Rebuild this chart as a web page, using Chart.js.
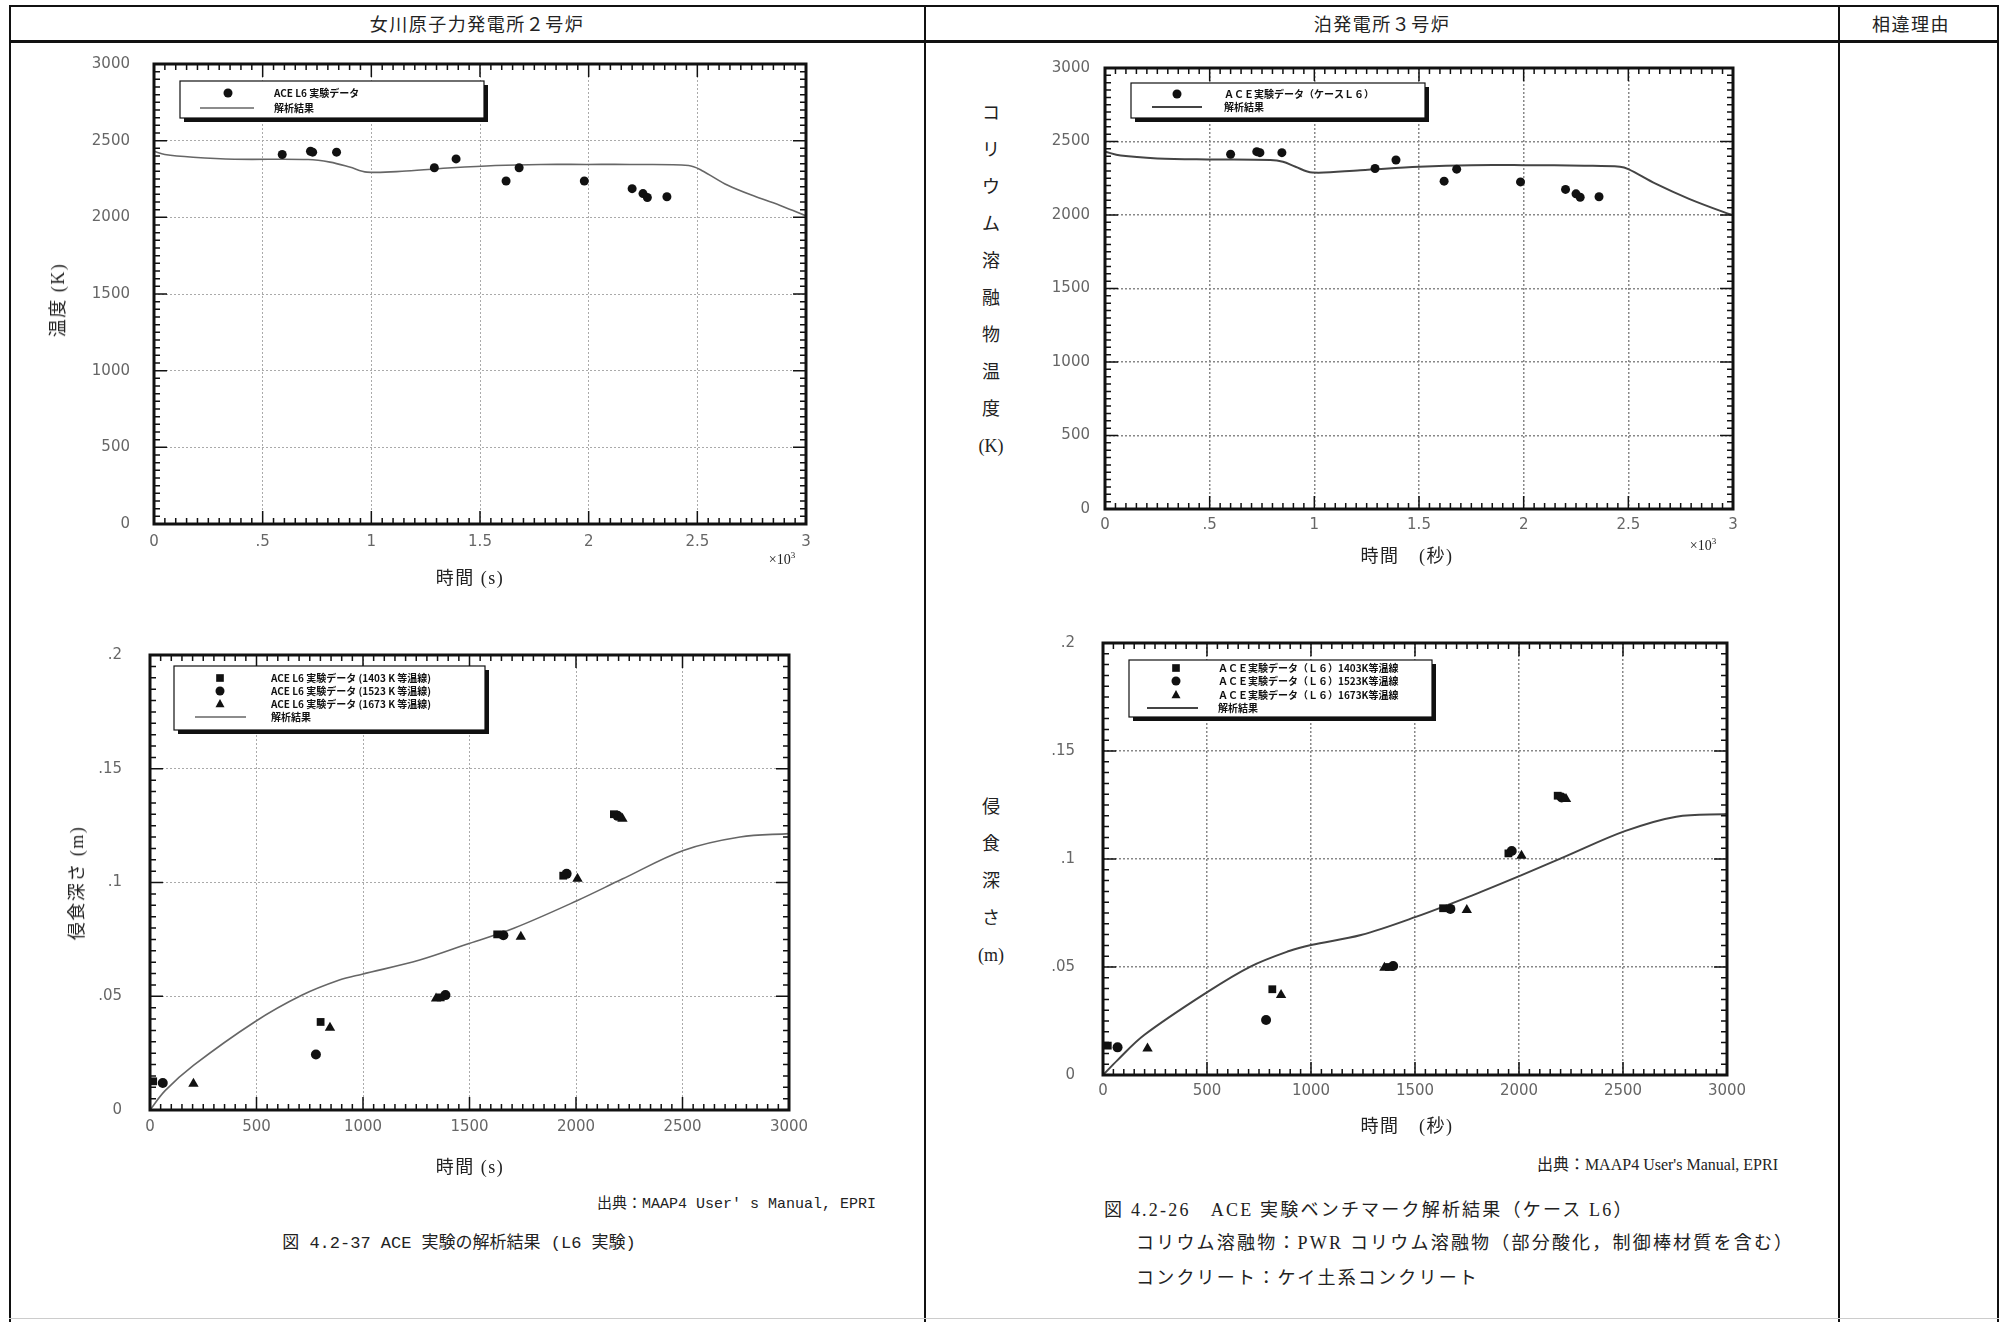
<!DOCTYPE html>
<html lang="ja">
<head>
<meta charset="utf-8">
<title>ACE L6</title>
<script src="https://cdn.jsdelivr.net/npm/chart.js@4.4.1/dist/chart.umd.min.js"></script>
<style>
  html, body { margin: 0; padding: 0; background: #fff; }
  body { position: relative; width: 2006px; height: 1322px; overflow: hidden; font-family: "Noto Sans CJK JP", sans-serif; color: #222; }
  .rule { position: absolute; background: #111; }
  .txt { position: absolute; white-space: nowrap; line-height: 1; }
  .c { transform: translate(-50%, -50%); }
  .r { transform: translate(-100%, -50%); }
  .l { transform: translate(0, -50%); }
  .vert { transform: translate(-50%, -50%) rotate(-90deg); }
  .jp { font-size: 18px; letter-spacing: 1.5px; }
  .cap { font-size: 18px; letter-spacing: 2.2px; }
  .mono { font-family: "Liberation Mono", "Noto Sans CJK JP", monospace; }
  .serif { font-family: "Liberation Serif", "Noto Sans CJK JP", serif; }
  .stack { position: absolute; transform: translateX(-50%); font-family: "Liberation Serif", "Noto Sans CJK JP", serif; font-size: 18px; text-align: center; }
  .stack div { height: 37px; line-height: 37px; }
  canvas { position: absolute; }
</style>
</head>
<body>
<!-- table rules -->
<div class="rule" style="left:9px;top:5px;width:1990px;height:2px"></div>
<div class="rule" style="left:9px;top:40px;width:1990px;height:3px"></div>
<div class="rule" style="left:9px;top:5px;width:2px;height:1317px"></div>
<div class="rule" style="left:924px;top:5px;width:2px;height:1317px"></div>
<div class="rule" style="left:1838px;top:5px;width:2px;height:1317px"></div>
<div class="rule" style="left:1997px;top:5px;width:2px;height:1317px"></div>
<div class="rule" style="left:9px;top:1318px;width:1990px;height:1px;background:#ccc"></div>

<div class="txt c jp" style="left:477px;top:23px">女川原子力発電所２号炉</div>
<div class="txt c jp" style="left:1382px;top:23px">泊発電所３号炉</div>
<div class="txt c jp" style="left:1911px;top:23px">相違理由</div>

<canvas id="tempL"></canvas>
<canvas id="tempR"></canvas>
<canvas id="depthL"></canvas>
<canvas id="depthR"></canvas>

<!-- left column texts -->
<div class="txt vert jp serif" style="left:58px;top:300px">温度 (K)</div>
<div class="txt c jp serif" style="left:470px;top:578px">時間 (s)</div>
<div class="txt c serif" style="left:782px;top:559px;font-size:14px">×10<sup style="font-size:9px">3</sup></div>
<div class="txt vert jp serif" style="left:77px;top:883px">侵食深さ (m)</div>
<div class="txt c jp serif" style="left:470px;top:1167px">時間 (s)</div>
<div class="txt r mono" style="left:876px;top:1204px;font-size:15px">出典：MAAP4 User' s Manual, EPRI</div>
<div class="txt c mono" style="left:459px;top:1243px;font-size:17px">図 4.2-37 ACE 実験の解析結果 (L6 実験)</div>

<!-- right column texts -->
<div class="stack" style="left:991px;top:95px">
  <div>コ</div><div>リ</div><div>ウ</div><div>ム</div><div>溶</div><div>融</div><div>物</div><div>温</div><div>度</div><div>(K)</div>
</div>
<div class="txt c jp serif" style="left:1407px;top:556px">時間　(秒)</div>
<div class="txt c serif" style="left:1703px;top:545px;font-size:14px">×10<sup style="font-size:9px">3</sup></div>
<div class="stack" style="left:991px;top:789px">
  <div>侵</div><div>食</div><div>深</div><div>さ</div><div>(m)</div>
</div>
<div class="txt c jp serif" style="left:1407px;top:1126px">時間　(秒)</div>
<div class="txt r serif" style="left:1778px;top:1165px;font-size:16px">出典：MAAP4 User's Manual, EPRI</div>
<div class="txt l cap serif" style="left:1104px;top:1210px">図 4.2-26　ACE 実験ベンチマーク解析結果（ケース L6）</div>
<div class="txt l cap serif" style="left:1136px;top:1243px">コリウム溶融物：PWR コリウム溶融物（部分酸化，制御棒材質を含む）</div>
<div class="txt l cap serif" style="left:1136px;top:1278px">コンクリート：ケイ土系コンクリート</div>

<script>
// tick labels
const tempTickX = ['0', '.5', '1', '1.5', '2', '2.5', '3'];
const tempTickY = ['0', '500', '1000', '1500', '2000', '2500', '3000'];
const depthTickX = ['0', '500', '1000', '1500', '2000', '2500', '3000'];
const depthTickY = ['0', '.05', '.1', '.15', '.2'];

// temperature, Onagawa (time in 10^3 s, K)
const tempExpTimeL = [0.59, 0.72, 0.73, 0.84, 1.29, 1.39, 1.62, 1.68, 1.98, 2.20, 2.25, 2.27, 2.36];
const tempExpL = [2410, 2431, 2425, 2425, 2323, 2381, 2237, 2323, 2237, 2187, 2155, 2129, 2134];
const tempCalcTimeL = [0, 0.05, 0.18, 0.37, 0.71, 0.81, 0.90, 0.98, 1.16, 1.37, 1.57, 1.78, 1.99, 2.19, 2.46, 2.52, 2.64, 2.77, 2.89, 3.0];
const tempCalcL = [2431, 2410, 2392, 2379, 2377, 2360, 2328, 2295, 2302, 2323, 2338, 2345, 2345, 2345, 2338, 2306, 2209, 2134, 2073, 2010];

// temperature, Tomari
const tempExpTimeR = [0.60, 0.725, 0.74, 0.845, 1.29, 1.39, 1.62, 1.68, 1.985, 2.20, 2.25, 2.27, 2.36];
const tempExpR = [2413, 2431, 2424, 2424, 2316, 2374, 2230, 2312, 2225, 2174, 2144, 2121, 2124];
const tempCalcTimeR = [0, 0.075, 0.25, 0.5, 0.79, 0.85, 0.91, 0.99, 1.22, 1.5, 1.75, 2.0, 2.29, 2.46, 2.5, 2.63, 2.79, 2.98, 3.0];
const tempCalcR = [2431, 2404, 2385, 2378, 2374, 2362, 2328, 2289, 2305, 2328, 2339, 2339, 2335, 2328, 2312, 2213, 2110, 2007, 2000];

// ablation depth, Onagawa (s, m)
const d1403TimeL = [15, 801, 1365, 1630, 1940, 2178];
const d1403L = [0.0126, 0.0387, 0.0495, 0.0772, 0.1030, 0.1300];
const d1523TimeL = [60, 779, 1387, 1659, 1956, 2195];
const d1523L = [0.0119, 0.0244, 0.0505, 0.0768, 0.1038, 0.1293];
const d1673TimeL = [204, 845, 1343, 1741, 2007, 2218];
const d1673L = [0.0115, 0.0362, 0.0490, 0.0762, 0.1016, 0.1280];
const depthCalcTimeL = [0, 71, 204, 491, 712, 889, 996, 1266, 1498, 1708, 2007, 2217, 2504, 2770, 3000];
const depthCalcL = [0, 0.0085, 0.0196, 0.0387, 0.0504, 0.0571, 0.0597, 0.0659, 0.0732, 0.0799, 0.0921, 0.1015, 0.1141, 0.1200, 0.1215];

// ablation depth, Tomari
const d1403TimeR = [23, 814, 1375, 1635, 1949, 2186];
const d1403R = [0.0136, 0.0397, 0.0500, 0.0772, 0.1026, 0.1293];
const d1523TimeR = [70, 784, 1395, 1670, 1965, 2205];
const d1523R = [0.0128, 0.0255, 0.0505, 0.0769, 0.1037, 0.1285];
const d1673TimeR = [214, 856, 1353, 1749, 2012, 2226];
const d1673R = [0.0123, 0.0370, 0.0497, 0.0764, 0.1015, 0.1278];
const depthCalcTimeR = [0, 70, 198, 505, 709, 895, 1000, 1240, 1507, 1779, 2007, 2221, 2512, 2756, 3000];
const depthCalcR = [0, 0.0069, 0.0185, 0.0386, 0.0502, 0.0574, 0.0602, 0.0648, 0.0733, 0.0833, 0.0923, 0.1011, 0.1130, 0.1196, 0.1208];

const pts = (xs, ys) => xs.map((x, i) => ({ x, y: ys[i] }));

function drawMarker(ctx, style, x, y, r) {
  ctx.beginPath();
  if (style === 'rect') {
    ctx.rect(x - r * 0.85, y - r * 0.85, r * 1.7, r * 1.7);
  } else if (style === 'triangle') {
    ctx.moveTo(x, y - r * 1.1);
    ctx.lineTo(x + r, y + r * 0.7);
    ctx.lineTo(x - r, y + r * 0.7);
    ctx.closePath();
  } else {
    ctx.arc(x, y, r, 0, Math.PI * 2);
  }
  ctx.fill();
}

// dense inward ticks on all four sides + heavy frame
const frameTicks = {
  id: 'frameTicks',
  afterDatasetsDraw(chart, args, o) {
    const { ctx, chartArea: a, scales: { x, y } } = chart;
    ctx.save();
    ctx.strokeStyle = '#111';
    ctx.lineWidth = 1.5;
    ctx.beginPath();
    const nx = Math.round((x.max - x.min) / o.xStep);
    for (let i = 0; i <= nx; i++) {
      const px = x.getPixelForValue(x.min + i * o.xStep);
      const len = i % o.perMajor === 0 ? 13 : 6;
      ctx.moveTo(px, a.bottom); ctx.lineTo(px, a.bottom - len);
      ctx.moveTo(px, a.top); ctx.lineTo(px, a.top + len);
    }
    const ny = Math.round((y.max - y.min) / o.yStep);
    for (let i = 0; i <= ny; i++) {
      const py = y.getPixelForValue(y.min + i * o.yStep);
      const len = i % o.perMajor === 0 ? 13 : 6;
      ctx.moveTo(a.left, py); ctx.lineTo(a.left + len, py);
      ctx.moveTo(a.right, py); ctx.lineTo(a.right - len, py);
    }
    ctx.stroke();
    ctx.lineWidth = 3;
    ctx.strokeRect(a.left, a.top, a.right - a.left, a.bottom - a.top);
    ctx.restore();
  }
};

// boxed legend with drop shadow, inside the plot
const boxLegend = {
  id: 'boxLegend',
  afterDatasetsDraw(chart, args, o) {
    const { ctx, chartArea: a } = chart;
    const x0 = a.left + o.x, y0 = a.top + o.y;
    ctx.save();
    ctx.fillStyle = '#111';
    ctx.fillRect(x0 + 4, y0 + 4, o.w, o.h);
    ctx.fillStyle = '#fff';
    ctx.fillRect(x0, y0, o.w, o.h);
    ctx.strokeStyle = '#111';
    ctx.lineWidth = 1.2;
    ctx.strokeRect(x0, y0, o.w, o.h);
    ctx.font = 'bold 10px "Noto Sans CJK JP", sans-serif';
    ctx.textBaseline = 'middle';
    chart.data.datasets.forEach((ds, i) => {
      const cy = y0 + o.rows[i];
      if (ds.showLine) {
        ctx.strokeStyle = ds.borderColor;
        ctx.lineWidth = ds.borderWidth;
        ctx.beginPath();
        ctx.moveTo(x0 + o.line[0], cy);
        ctx.lineTo(x0 + o.line[1], cy);
        ctx.stroke();
      } else {
        ctx.fillStyle = '#111';
        drawMarker(ctx, ds.pointStyle, x0 + o.markerX, cy, 4.5);
      }
      ctx.fillStyle = '#111';
      ctx.fillText(ds.label, x0 + o.textX, cy);
    });
    ctx.restore();
  }
};

const PAD = { l: 90, t: 20, r: 40, b: 50 };

function buildChart(id, area, datasets, ax, opts) {
  const cv = document.getElementById(id);
  const w = area.right - area.left + PAD.l + PAD.r;
  const h = area.bottom - area.top + PAD.t + PAD.b;
  cv.width = w; cv.height = h;
  cv.style.width = w + 'px'; cv.style.height = h + 'px';
  const tickFont = { family: 'DejaVu Sans', size: 15 };
  const chart = new Chart(cv, {
    type: 'scatter',
    data: { datasets },
    options: {
      responsive: false,
      maintainAspectRatio: false,
      animation: false,
      layout: { padding: { top: PAD.t, right: PAD.r, left: 0, bottom: 0 } },
      plugins: {
        legend: { display: false },
        tooltip: { enabled: false },
        frameTicks: { xStep: ax.xStep, yStep: ax.yStep, perMajor: 10 },
        boxLegend: opts.legend,
      },
      scales: {
        x: {
          type: 'linear', min: ax.xMin, max: ax.xMax,
          afterFit: (s) => { s.height = PAD.b; },
          ticks: {
            stepSize: ax.xMajor, autoSkip: false, maxRotation: 0, padding: opts.xPad,
            color: '#666', font: tickFont,
            callback: (v, i) => ax.xLabels[i],
          },
          grid: { color: opts.gridColor, lineWidth: opts.gridWidth, drawTicks: false },
          border: { display: false, dash: [2, 2] },
        },
        y: {
          type: 'linear', min: ax.yMin, max: ax.yMax,
          afterFit: (s) => { s.width = PAD.l; },
          ticks: {
            stepSize: ax.yMajor, autoSkip: false, padding: opts.yPad,
            color: '#666', font: tickFont,
            callback: (v, i) => ax.yLabels[i],
          },
          grid: { color: opts.gridColor, lineWidth: opts.gridWidth, drawTicks: false },
          border: { display: false, dash: [2, 2] },
        },
      },
    },
    plugins: [frameTicks, boxLegend],
  });
  // place the canvas so that the plot area lands exactly on `area`
  const ca = chart.chartArea;
  const newW = Math.round(ca.left + (area.right - area.left) + (w - ca.right));
  const newH = Math.round(ca.top + (area.bottom - area.top) + (h - ca.bottom));
  cv.style.left = (area.left - ca.left) + 'px';
  cv.style.top = (area.top - ca.top) + 'px';
  chart.resize(newW, newH);
  return chart;
}

function pointSet(label, data, style, r) {
  return {
    label, data, pointStyle: style, pointRadius: r,
    pointBackgroundColor: '#111', pointBorderColor: '#111', pointBorderWidth: 0,
    showLine: false, order: 1,
  };
}

function lineSet(label, data, color, width) {
  return {
    label, data, showLine: true, pointRadius: 0,
    borderColor: color, borderWidth: width, tension: 0.35, order: 2,
  };
}

const tempAxes = { xMin: 0, xMax: 3, xMajor: 0.5, xStep: 0.05, yMin: 0, yMax: 3000, yMajor: 500, yStep: 50, xLabels: tempTickX, yLabels: tempTickY };
const depthAxes = { xMin: 0, xMax: 3000, xMajor: 500, xStep: 50, yMin: 0, yMax: 0.2, yMajor: 0.05, yStep: 0.005, xLabels: depthTickX, yLabels: depthTickY };

buildChart('tempL', { left: 154, top: 64, right: 806, bottom: 524 }, [
  pointSet('ACE L6 実験データ', pts(tempExpTimeL, tempExpL), 'circle', 4.5),
  lineSet('解析結果', pts(tempCalcTimeL, tempCalcL), '#666', 1.6),
], tempAxes, {
  xPad: 9, yPad: 24, gridColor: '#aaa', gridWidth: 1,
  legend: { x: 26, y: 17, w: 304, h: 37, rows: [12, 27], markerX: 48, textX: 94, line: [20, 74] },
});

buildChart('tempR', { left: 1105, top: 68, right: 1733, bottom: 509 }, [
  pointSet('ＡＣＥ実験データ（ケースＬ６）', pts(tempExpTimeR, tempExpR), 'circle', 4.5),
  lineSet('解析結果', pts(tempCalcTimeR, tempCalcR), '#444', 2),
], tempAxes, {
  xPad: 7, yPad: 15, gridColor: '#888', gridWidth: 1.5,
  legend: { x: 26, y: 15, w: 294, h: 35, rows: [11, 24], markerX: 46, textX: 93, line: [21, 71] },
});

buildChart('depthL', { left: 150, top: 655, right: 789, bottom: 1110 }, [
  pointSet('ACE L6 実験データ (1403 K 等温線)', pts(d1403TimeL, d1403L), 'rect', 5.5),
  pointSet('ACE L6 実験データ (1523 K 等温線)', pts(d1523TimeL, d1523L), 'circle', 5),
  pointSet('ACE L6 実験データ (1673 K 等温線)', pts(d1673TimeL, d1673L), 'triangle', 6),
  lineSet('解析結果', pts(depthCalcTimeL, depthCalcL), '#666', 1.6),
], depthAxes, {
  xPad: 8, yPad: 28, gridColor: '#aaa', gridWidth: 1,
  legend: { x: 24, y: 11, w: 311, h: 64, rows: [12, 25, 38, 51], markerX: 46, textX: 97, line: [21, 72] },
});

buildChart('depthR', { left: 1103, top: 643, right: 1727, bottom: 1075 }, [
  pointSet('ＡＣＥ実験データ（Ｌ６）1403K等温線', pts(d1403TimeR, d1403R), 'rect', 5.5),
  pointSet('ＡＣＥ実験データ（Ｌ６）1523K等温線', pts(d1523TimeR, d1523R), 'circle', 5),
  pointSet('ＡＣＥ実験データ（Ｌ６）1673K等温線', pts(d1673TimeR, d1673R), 'triangle', 6),
  lineSet('解析結果', pts(depthCalcTimeR, depthCalcR), '#444', 2),
], depthAxes, {
  xPad: 7, yPad: 28, gridColor: '#888', gridWidth: 1.5,
  legend: { x: 26, y: 17, w: 303, h: 57, rows: [8, 21, 35, 48], markerX: 47, textX: 89, line: [18, 69] },
});
</script>
</body>
</html>
